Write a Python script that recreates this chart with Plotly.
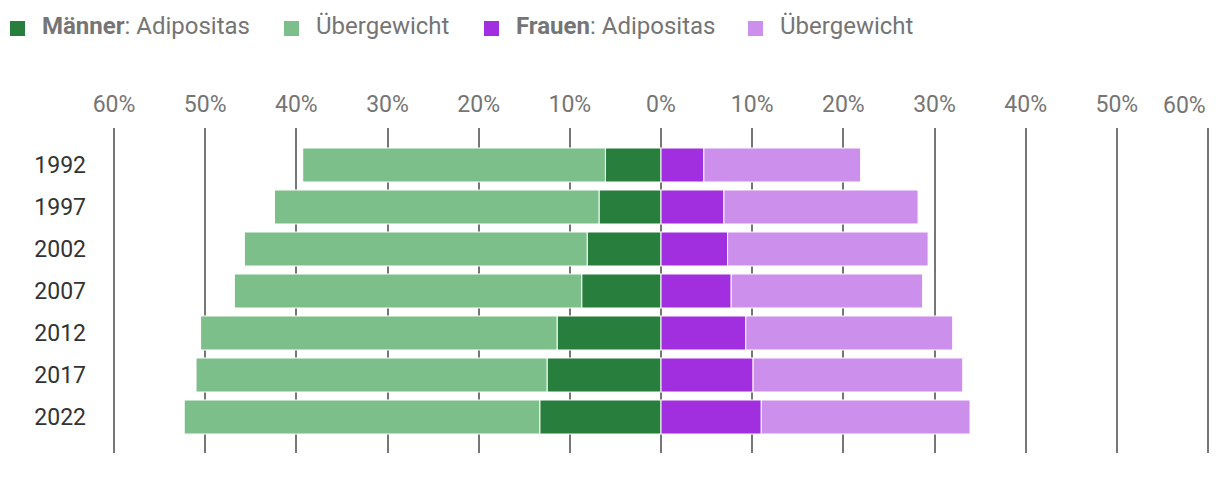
import plotly.graph_objects as go

years = ["1992", "1997", "2002", "2007", "2012", "2017", "2022"]
men_adipositas = [6.1, 6.8, 8.1, 8.7, 11.4, 12.5, 13.3]
men_uebergewicht = [33.2, 35.6, 37.6, 38.1, 39.1, 38.5, 39.0]
women_adipositas = [4.7, 6.9, 7.3, 7.7, 9.3, 10.1, 11.0]
women_uebergewicht = [17.2, 21.3, 22.0, 21.0, 22.7, 23.0, 22.9]
tick_values = [-60, -50, -40, -30, -20, -10, 0, 10, 20, 30, 40, 50, 60]
tick_labels = ["60%", "50%", "40%", "30%", "20%", "10%", "0%", "10%", "20%", "30%", "40%", "50%", ""]
legend_names = ["<b>Männer</b>: Adipositas", "Übergewicht", "<b>Frauen</b>: Adipositas", "Übergewicht"]

C_MEN_A = "#277e3d"
C_MEN_U = "#7dbf8a"
C_WOM_A = "#a22fdf"
C_WOM_U = "#cd8fec"
colors = [C_MEN_A, C_MEN_U, C_WOM_A, C_WOM_U]
GRID = "#767676"
FONT = "Roboto"
TXT = "#757575"

# figure geometry (page body has an 8px margin)
W, H = 1212, 482
ML, MR, MT, MB = 103, 9, 120, 37
PW, PH = W - ML - MR, H - MT - MB


def px_x(px):
    return (px - ML) / PW


def px_y(py):
    return (MT + PH - py) / PH


fig = go.Figure()
series = [[-v for v in men_adipositas], [-v for v in men_uebergewicht], women_adipositas, women_uebergewicht]
for vals, name, col in zip(series, legend_names, colors):
    fig.add_trace(go.Bar(y=years, x=vals, orientation="h", name=name, showlegend=False,
                         marker=dict(color=col, line=dict(color="white", width=1))))

fig.update_layout(
    width=W, height=H,
    barmode="relative", bargap=0.19,
    plot_bgcolor="white", paper_bgcolor="white",
    margin=dict(l=ML, r=MR, t=MT, b=MB, autoexpand=False),
    font=dict(family=FONT, size=23, color=TXT),
    showlegend=False,
    xaxis=dict(side="top", range=[-60.33, 60.33], tickvals=tick_values, ticktext=tick_labels,
               showgrid=True, gridcolor=GRID, gridwidth=2, zeroline=True, zerolinecolor=GRID,
               zerolinewidth=2, showline=False, ticks="", ticklabelstandoff=10,
               tickfont=dict(size=23, color=TXT)),
    yaxis=dict(type="category", categoryorder="array", categoryarray=years,
               range=[6.857, -0.881], showgrid=False, zeroline=False, showline=False,
               ticks="", ticklabelstandoff=24, tickfont=dict(size=23, color="#333333")),
)
fig.add_annotation(x=60, xref="x", y=1, yref="paper", yanchor="middle", xanchor="right",
                   text="60%", showarrow=False, yshift=23, font=dict(size=23, color=TXT))

# manual legend
marker_left = [2, 276, 476, 740]
for left, name, col in zip(marker_left, legend_names, colors):
    fig.add_shape(type="rect", xref="paper", yref="paper",
                  x0=px_x(left), x1=px_x(left + 15), y0=px_y(28), y1=px_y(13),
                  fillcolor=col, line=dict(width=0))
    fig.add_annotation(xref="paper", yref="paper", x=px_x(left + 30), y=px_y(18),
                       xanchor="left", yanchor="middle", showarrow=False, text=name,
                       font=dict(size=24, color=TXT))

fig.write_html("out.html")
